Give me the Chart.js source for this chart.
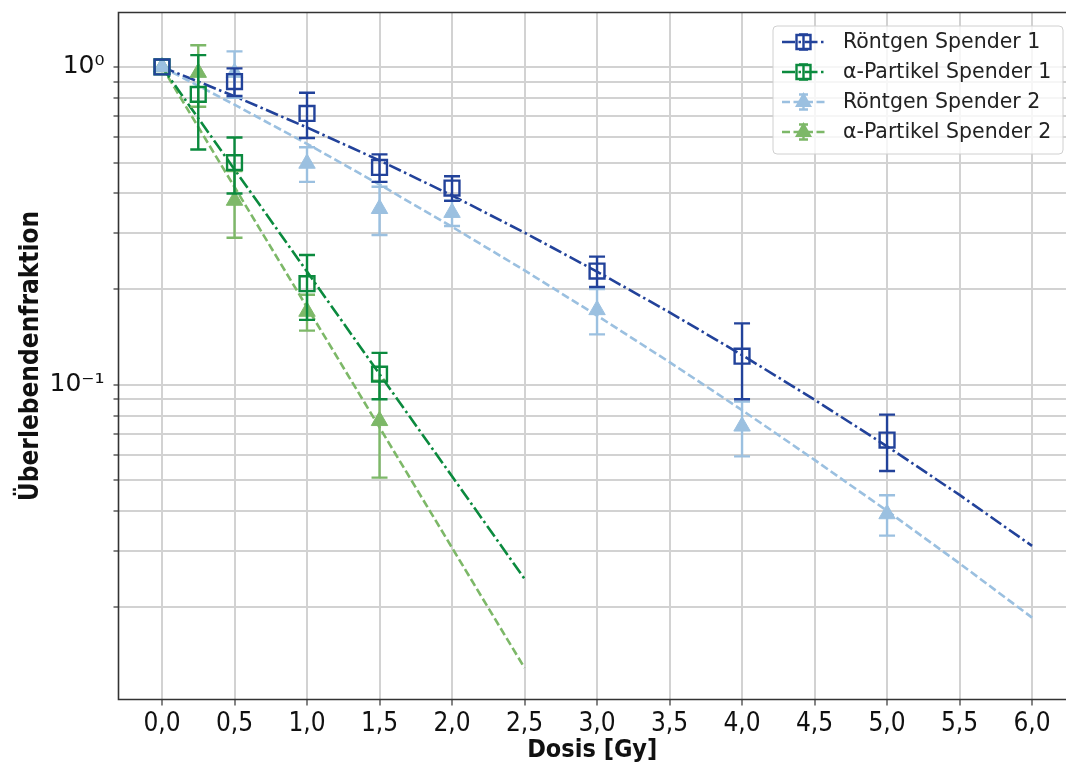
<!DOCTYPE html>
<html><head><meta charset="utf-8">
<script src="https://cdn.jsdelivr.net/npm/chart.js@4/dist/chart.umd.min.js"></script>
<style>
html,body{margin:0;padding:0;overflow:hidden;background:#fff;width:1066px;height:765px}
</style></head>
<body><canvas id="c" width="1066" height="765"></canvas>
<script>
// ---------- data ----------
const xTickValues = [0, 0.5, 1, 1.5, 2, 2.5, 3, 3.5, 4, 4.5, 5, 5.5, 6];
const xTickLabels = ['0,0','0,5','1,0','1,5','2,0','2,5','3,0','3,5','4,0','4,5','5,0','5,5','6,0'];
const yTickValues = [0.02,0.03,0.04,0.05,0.06,0.07,0.08,0.09,0.1,0.2,0.3,0.4,0.5,0.6,0.7,0.8,0.9,1];
const yTickLabels = ['','','','','','','','','10\u207B\u00B9','','','','','','','','','10\u2070'];

const seriesNames = ['Röntgen Spender 1','α-Partikel Spender 1','Röntgen Spender 2','α-Partikel Spender 2'];

const doseR1 = [0, 0.5, 1, 1.5, 2, 3, 4, 5];
const survR1 = [1.0, 0.90, 0.714, 0.483, 0.416, 0.228, 0.123, 0.067];
const errR1  = [0, 0.09, 0.116, 0.048, 0.037, 0.025, 0.033, 0.0135];

const doseA1 = [0, 0.25, 0.5, 1, 1.5];
const survA1 = [1.0, 0.82, 0.50, 0.208, 0.108];
const errA1  = [0, 0.27, 0.10, 0.048, 0.018];

const doseR2 = [0, 0.5, 1, 1.5, 2, 3, 4, 5];
const survR2 = [1.0, 0.96, 0.497, 0.358, 0.348, 0.172, 0.074, 0.0392];
const errR2  = [0, 0.16, 0.062, 0.062, 0.032, 0.028, 0.0145, 0.0057];

const doseA2 = [0, 0.25, 0.5, 1, 1.5];
const survA2 = [1.0, 0.96, 0.38, 0.17, 0.077];
const errA2  = [0, 0.21, 0.09, 0.022, 0.026];

// fitted curves
const fitDoseR = [0, 0.5, 1, 1.5, 2, 2.5, 3, 3.5, 4, 4.5, 5, 5.5, 6];
const fitR1 = [1.0, 0.809, 0.645, 0.508, 0.394, 0.301, 0.227, 0.169, 0.124, 0.0897, 0.064, 0.045, 0.0311];
const fitR2 = [1.0, 0.761, 0.573, 0.4265, 0.314, 0.229, 0.165, 0.1178, 0.0832, 0.058, 0.0401, 0.0274, 0.0185];
const fitDoseA = [0, 0.5, 1, 1.5, 2, 2.5];
const fitA1 = [1.0, 0.476, 0.227, 0.108, 0.0515, 0.0245];
const fitA2 = [1.0, 0.419, 0.1753, 0.0734, 0.0307, 0.01285];

// ---------- styles ----------
const COL = { r1:'#22429a', a1:'#0b8a3e', r2:'#9bc0e0', a2:'#7db868' };
const DASHDOT = [13, 3.5, 2.5, 3.5];
const DASHED = [8, 3.5];
const FONT = "'DejaVu Sans'";
const COND = "'DejaVu Sans Condensed','DejaVu Sans'";
const LW = 2.6;

function pts(xs, ys){ return xs.map((x,i)=>({x:x, y:ys[i]})); }

const errorBarPlugin = {
  id:'errbars',
  beforeDatasetDraw(chart, args){
    const ds = chart.data.datasets[args.index];
    if(!ds.errors) return;
    const xs = chart.scales.x, ys = chart.scales.y, ctx = chart.ctx;
    ctx.save();
    ctx.strokeStyle = ds.borderColor; ctx.lineWidth = 2.4; ctx.setLineDash([]);
    ds.data.forEach((p,i)=>{
      const e = ds.errors[i]; if(!e) return;
      const px = xs.getPixelForValue(p.x);
      const y1 = ys.getPixelForValue(p.y+e), y2 = ys.getPixelForValue(p.y-e);
      ctx.beginPath();
      ctx.moveTo(px,y1); ctx.lineTo(px,y2);
      ctx.moveTo(px-8,y1); ctx.lineTo(px+8,y1);
      ctx.moveTo(px-8,y2); ctx.lineTo(px+8,y2);
      ctx.stroke();
    });
    ctx.restore();
  }
};

const framePlugin = {
  id:'frame',
  afterDatasetsDraw(chart){
    const a = chart.chartArea, ctx = chart.ctx;
    ctx.save();
    ctx.strokeStyle = '#333'; ctx.lineWidth = 1.6; ctx.setLineDash([]);
    ctx.beginPath();
    ctx.moveTo(a.right+2, a.top); ctx.lineTo(a.left, a.top);
    ctx.lineTo(a.left, a.bottom); ctx.lineTo(a.right+2, a.bottom);
    ctx.stroke();
    ctx.restore();
  }
};

const legendDefs = [
  {name:seriesNames[0], color:COL.r1, dash:DASHDOT, marker:'square'},
  {name:seriesNames[1], color:COL.a1, dash:DASHDOT, marker:'square'},
  {name:seriesNames[2], color:COL.r2, dash:DASHED, marker:'triangle'},
  {name:seriesNames[3], color:COL.a2, dash:DASHED, marker:'triangle'}
];

const legendPlugin = {
  id:'customLegend',
  afterDraw(chart){
    const ctx = chart.ctx;
    const bx = 773, by = 26, bw = 290, bh = 128, r = 4;
    ctx.save();
    ctx.beginPath();
    ctx.moveTo(bx+r,by); ctx.lineTo(bx+bw-r,by); ctx.quadraticCurveTo(bx+bw,by,bx+bw,by+r);
    ctx.lineTo(bx+bw,by+bh-r); ctx.quadraticCurveTo(bx+bw,by+bh,bx+bw-r,by+bh);
    ctx.lineTo(bx+r,by+bh); ctx.quadraticCurveTo(bx,by+bh,bx,by+bh-r);
    ctx.lineTo(bx,by+r); ctx.quadraticCurveTo(bx,by,bx+r,by);
    ctx.closePath();
    ctx.fillStyle = 'rgba(255,255,255,0.8)'; ctx.fill();
    ctx.strokeStyle = '#d0d0d0'; ctx.lineWidth = 1; ctx.stroke();
    legendDefs.forEach((d,i)=>{
      const cy = 42 + i*30;
      const x0 = 782, x1 = 825, mx = 803.5;
      ctx.strokeStyle = d.color; ctx.lineWidth = LW;
      ctx.setLineDash(d.dash);
      ctx.beginPath(); ctx.moveTo(x0,cy); ctx.lineTo(x1,cy); ctx.stroke();
      ctx.setLineDash([]);
      ctx.lineWidth = 2.4;
      ctx.beginPath();
      ctx.moveTo(mx,cy-7.5); ctx.lineTo(mx,cy+7.5);
      ctx.moveTo(mx-4.5,cy-7.5); ctx.lineTo(mx+4.5,cy-7.5);
      ctx.moveTo(mx-4.5,cy+7.5); ctx.lineTo(mx+4.5,cy+7.5);
      ctx.stroke();
      if(d.marker==='square'){
        ctx.beginPath(); ctx.rect(mx-7,cy-7,14,14); ctx.stroke();
      } else {
        ctx.fillStyle = d.color;
        ctx.beginPath(); ctx.moveTo(mx,cy-10); ctx.lineTo(mx+8.5,cy+5); ctx.lineTo(mx-8.5,cy+5); ctx.closePath(); ctx.fill();
      }
      ctx.fillStyle = '#222';
      ctx.font = "20.5px " + FONT;
      ctx.textBaseline = 'middle'; ctx.textAlign = 'left';
      ctx.fillText(d.name, 843, cy+1);
    });
    ctx.restore();
  }
};

const gridCol = '#d2d2d2';

new Chart(document.getElementById('c'), {
  type:'scatter',
  data:{ datasets:[
    {label:seriesNames[0]+' Fit', data:pts(fitDoseR, fitR1), showLine:true, borderColor:COL.r1, borderWidth:LW, borderDash:DASHDOT, pointRadius:0, order:5},
    {label:seriesNames[1]+' Fit', data:pts(fitDoseA, fitA1), showLine:true, borderColor:COL.a1, borderWidth:LW, borderDash:DASHDOT, pointRadius:0, order:5},
    {label:seriesNames[2]+' Fit', data:pts(fitDoseR, fitR2), showLine:true, borderColor:COL.r2, borderWidth:LW, borderDash:DASHED, pointRadius:0, order:6},
    {label:seriesNames[3]+' Fit', data:pts(fitDoseA, fitA2), showLine:true, borderColor:COL.a2, borderWidth:LW, borderDash:DASHED, pointRadius:0, order:6},
    {label:seriesNames[2], data:pts(doseR2, survR2), errors:errR2, showLine:false, pointStyle:'triangle', pointRadius:9.5, backgroundColor:COL.r2, borderColor:COL.r2, borderWidth:1, order:3},
    {label:seriesNames[3], data:pts(doseA2, survA2), errors:errA2, showLine:false, pointStyle:'triangle', pointRadius:9.5, backgroundColor:COL.a2, borderColor:COL.a2, borderWidth:1, order:3},
    {label:seriesNames[0], data:pts(doseR1, survR1), errors:errR1, showLine:false, pointStyle:'rect', pointRadius:10.5, backgroundColor:'rgba(0,0,0,0)', borderColor:COL.r1, borderWidth:2.4, order:1},
    {label:seriesNames[1], data:pts(doseA1, survA1), errors:errA1, showLine:false, pointStyle:'rect', pointRadius:10.5, backgroundColor:'rgba(0,0,0,0)', borderColor:COL.a1, borderWidth:2.4, order:1}
  ]},
  options:{
    responsive:false, animation:false, devicePixelRatio:1,
    layout:{ autoPadding:false, padding:{ left:0, right:0, top:12.5, bottom:0 } },
    plugins:{ legend:{display:false}, tooltip:{enabled:false} },
    events:[],
    elements:{ line:{ tension:0 } },
    scales:{
      x:{
        type:'linear', min:-0.3, max:6.234,
        afterBuildTicks(s){ s.ticks = xTickValues.map(v=>({value:v})); },
        afterFit(s){ s.height = 65.5; s.paddingLeft = 0; s.paddingRight = 0; },
        ticks:{ autoSkip:false, maxRotation:0, padding:3, color:'#111', font:{family:COND, size:26},
          callback:(v,i)=>xTickLabels[i] },
        grid:{ color:gridCol, lineWidth:2, tickColor:'#333', tickLength:6, tickWidth:1.2 },
        border:{ display:false },
        title:{ display:true, text:'Dosis [Gy]', color:'#111', font:{family:COND, size:25, weight:'bold'}, padding:{top:0,bottom:0} }
      },
      y:{
        type:'logarithmic', min:0.01022, max:1.484,
        afterBuildTicks(s){ s.ticks = yTickValues.map(v=>({value:v})); },
        afterFit(s){ s.width = 118.5; s.paddingTop = 0; s.paddingBottom = 0; },
        ticks:{ autoSkip:false, padding:9, color:'#111', font:{family:FONT, size:25},
          callback:(v,i)=>yTickLabels[i] },
        grid:{ color:gridCol, lineWidth:2, tickColor:'#333', tickLength:5, tickWidth:1.2 },
        border:{ display:false },
        title:{ display:true, text:'Überlebendenfraktion', color:'#111', font:{family:COND, size:26, weight:'bold'}, padding:{top:16,bottom:0} }
      }
    }
  },
  plugins:[errorBarPlugin, framePlugin, legendPlugin]
});
</script>
</body></html>
